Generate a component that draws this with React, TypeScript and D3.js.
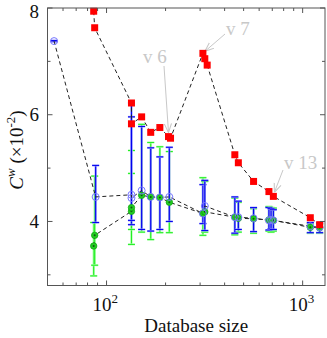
import * as d3 from "d3";

// database size (N), mean C^w (x10^-2)
const redN = [86, 87, 134, 134, 151, 168, 187, 207, 212, 310, 317, 326, 451, 470, 562, 673, 709, 1094, 1221];
const redV = [7.94, 7.63, 6.22, 5.83, 5.96, 5.67, 5.76, 5.59, 5.56, 7.15, 7.05, 6.93, 5.25, 5.1, 4.75, 4.56, 4.47, 4.07, 3.94];

const blueN = [54, 88, 134, 134, 151, 168, 187, 209, 310, 317, 451, 470, 562, 673, 690, 709, 1094, 1221];
const blueV = [7.38, 4.46, 4.5, 4.44, 4.58, 4.46, 4.45, 4.46, 4.15, 4.29, 4.08, 4.08, 4.06, 4.02, 4.03, 4.02, 3.91, 3.89];
const blueLo = [7.37, 3.98, 3.94, 4.02, 3.85, 3.82, 3.85, 4.0, 3.96, 3.83, 3.78, 3.85, 3.81, 3.84, 3.86, 3.85, 3.79, 3.79];
const blueHi = [7.39, 5.05, 6.22, 5.96, 5.78, 5.38, 5.21, 5.39, 4.69, 4.77, 4.46, 4.38, 4.26, 4.26, 4.24, 4.22, 3.98, 3.97];

const greenN = [86, 87, 134, 134, 151, 168, 187, 209, 310, 317, 451, 470, 562, 673, 690, 709, 1094, 1221];
const greenV = [3.54, 3.74, 4.19, 4.26, 4.49, 4.46, 4.45, 4.36, 4.15, 4.18, 4.08, 4.06, 4.05, 4.03, 4.03, 4.02, 3.89, 3.88];
const greenLo = [2.98, 3.18, 3.57, 3.85, 3.8, 3.66, 3.79, 3.79, 3.74, 3.8, 3.75, 3.8, 3.78, 3.82, 3.8, 3.82, 3.78, 3.78];
const greenHi = [3.98, 4.85, 5.33, 4.9, 5.82, 5.48, 5.4, 5.31, 4.82, 4.75, 4.44, 4.36, 4.24, 4.28, 4.26, 4.25, 3.96, 3.95];

const yMajor = [4, 6, 8];
const yMinor = [3, 5, 7];
const xMajor = [100, 1000];
const xMinor = [60, 70, 80, 90, 200, 300, 400, 500, 600, 700, 800, 900];

// labels: [text, index of red point it points at]
const notes: [string, number][] = [["v 6", 7], ["v 7", 9], ["v 13", 16]];

const W = 327;
const H = 338;
const L = 47.5, R = 325, T = 8, B = 285.5;
const font = "'Liberation Serif', 'DejaVu Serif', serif";
const axisCol = "#555";

export default function App() {
  const x = d3.scaleLog().domain([50, 1300]).range([L, R]);
  const y = d3.scaleLinear().domain([2.8, 8]).range([B, T]);

  const line = d3
    .line<[number, number]>()
    .x(d => x(d[0]))
    .y(d => y(d[1]));

  const red = redN.map((n, i) => [n, redV[i]] as [number, number]);
  const blue = blueN.map((n, i) => [n, blueV[i]] as [number, number]);
  const green = greenN.map((n, i) => [n, greenV[i]] as [number, number]);

  const errBars = (ns: number[], lo: number[], hi: number[], col: string, halo: string) =>
    ns.map((n, i) => {
      const cx = x(n);
      return (
        <g key={i}>
          <line x1={cx} x2={cx} y1={y(lo[i])} y2={y(hi[i])} stroke={halo} strokeWidth={2.2} />
          <line x1={cx} x2={cx} y1={y(lo[i])} y2={y(hi[i])} stroke={col} strokeWidth={1.1} />
          {[lo[i], hi[i]].map((v, j) => (
            <g key={j}>
              <line x1={cx - 3.5} x2={cx + 3.5} y1={y(v)} y2={y(v)} stroke={halo} strokeWidth={2} />
              <line x1={cx - 3.5} x2={cx + 3.5} y1={y(v)} y2={y(v)} stroke={col} strokeWidth={1} />
            </g>
          ))}
        </g>
      );
    });

  // annotation geometry relative to the pointed red square
  const noteGeo = [
    { tx: 143, ty: 63, from: [164, 66], dx: 0, dy: -4 },
    { tx: 226, ty: 35, from: [225, 34], dx: 2, dy: -2 },
    { tx: 284, ty: 169, from: [283, 170], dx: 1, dy: -4 },
  ];

  return (
    <div style={{ position: "fixed", left: 0, top: 0 }}>
      <svg width={W} height={H} style={{ display: "block", background: "#fff" }}>
        <defs>
          <marker id="arr" viewBox="0 0 10 10" refX={10} refY={5} markerWidth={9} markerHeight={9} orient="auto" markerUnits="userSpaceOnUse">
            <path d="M0,1 L10,5 L0,9" fill="none" stroke="#c8c8c8" strokeWidth={1.2} />
          </marker>
        </defs>

        {/* annotations */}
        {notes.map(([t, idx], k) => {
          const g = noteGeo[k];
          const px = x(redN[idx]) + g.dx;
          const py = y(redV[idx]) + g.dy;
          return (
            <g key={t}>
              <text x={g.tx} y={g.ty} fontFamily={font} fontSize={19} fill="#c8c8c8">
                {t}
              </text>
              <line x1={g.from[0]} y1={g.from[1]} x2={px} y2={py} stroke="#c8c8c8" strokeWidth={1} markerEnd="url(#arr)" />
            </g>
          );
        })}

        {/* error bars */}
        {errBars(greenN, greenLo, greenHi, "#22ee22", "#aaffaa")}
        {errBars(blueN, blueLo, blueHi, "#0000ee", "#9999ff")}

        {/* dashed lines */}
        {[red, blue, green].map((d, i) => (
          <path key={i} d={line(d) ?? ""} fill="none" stroke="#222" strokeWidth={1} strokeDasharray="4,3" />
        ))}

        {/* markers */}
        {green.map((d, i) => (
          <g key={i}>
            <circle cx={x(d[0])} cy={y(d[1])} r={3.2} fill="#22cc22" stroke="#11aa11" strokeWidth={0.8} />
            <circle cx={x(d[0])} cy={y(d[1])} r={1} fill="#115511" />
          </g>
        ))}
        {blue.map((d, i) => (
          <circle key={i} cx={x(d[0])} cy={y(d[1])} r={3.5} fill="none" stroke="#7777ff" strokeWidth={1} />
        ))}
        {red.map((d, i) => (
          <rect key={i} x={x(d[0]) - 3.5} y={y(d[1]) - 3.5} width={7} height={7} fill="#ff0000" />
        ))}

        {/* frame */}
        <rect x={L} y={T} width={R - L} height={B - T} fill="none" stroke={axisCol} strokeWidth={1} />

        {/* ticks */}
        {xMajor.concat(xMinor).map(v => {
          const len = xMajor.includes(v) ? 5 : 3;
          return (
            <g key={"x" + v} stroke={axisCol}>
              <line x1={x(v)} x2={x(v)} y1={B} y2={B - len} />
              <line x1={x(v)} x2={x(v)} y1={T} y2={T + len} />
            </g>
          );
        })}
        {yMajor.concat(yMinor).map(v => {
          const len = yMajor.includes(v) ? 5 : 3;
          return (
            <g key={"y" + v} stroke={axisCol}>
              <line x1={L} x2={L + len} y1={y(v)} y2={y(v)} />
              <line x1={R} x2={R - len} y1={y(v)} y2={y(v)} />
            </g>
          );
        })}

        {/* tick labels */}
        {yMajor.map(v => (
          <text key={v} x={39} y={Math.max(y(v), 11) + 6.5} textAnchor="end" fontFamily={font} fontSize={19} fill="#111">
            {v}
          </text>
        ))}
        {xMajor.map(v => (
          <text key={v} x={x(v) - 14} y={311} fontFamily={font} fontSize={19} fill="#111">
            10
            <tspan fontSize={13} dy={-8}>
              {Math.round(Math.log10(v))}
            </tspan>
          </text>
        ))}

        {/* axis titles */}
        <text x={(L + R) / 2 + 10} y={332} textAnchor="middle" fontFamily={font} fontSize={19} fill="#111">
          Database size
        </text>
        <text transform="translate(23,150) rotate(-90)" textAnchor="middle" fontFamily={font} fontSize={19} fill="#111">
          <tspan fontStyle="italic">C</tspan>
          <tspan fontStyle="italic" fontSize={13} dy={-8}>w</tspan>
          <tspan dy={8}> (×10</tspan>
          <tspan fontSize={13} dy={-8}>-2</tspan>
          <tspan dy={8}>)</tspan>
        </text>
      </svg>
    </div>
  );
}
